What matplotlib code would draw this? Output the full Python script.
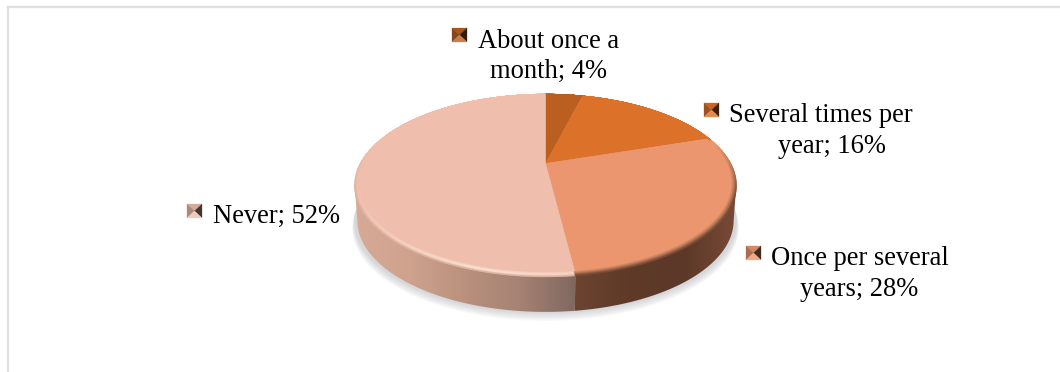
import numpy as np
import matplotlib as mpl
mpl.use('Agg')
import matplotlib.pyplot as plt
from matplotlib.collections import PolyCollection
from matplotlib.patches import Polygon

categories = ['About once a month', 'Several times per year', 'Once per several years', 'Never']
shares = [4, 16, 28, 52]
line_breaks = [('About once a', 'month'), ('Several times per', 'year'),
               ('Once per several', 'years'), ('', 'Never')]

face_colors = [(187, 95, 33), (220, 113, 42), (235, 150, 110), (239, 190, 172)]

# pie geometry in pixels: apex of the tilted disc and its perspective terms
CX, CY = 545.5, 163.5
A, B, K = 181.0, 84.5, 0.218
RIM = 1.03
DEPTH = 35.0
SIDE = np.arccos(-K)  # angle where the outline is widest


def project(theta, s=1.0, drop=0.0, xs=1.0):
    # theta runs clockwise from twelve o'clock, the near side of the disc is bigger
    X, Y = np.sin(theta), np.cos(theta)
    w = 1 + K * Y
    x = CX + A * s * xs * X / w
    y = CY - B * s * Y / w + (s - 1) * 70 + drop
    return x, y


def wall(ax, t0, t1, colors, x0, x1):
    theta = np.linspace(t0, t1, 200)
    xa, ya = project(theta, RIM)
    xb, yb = project(theta[::-1], RIM, DEPTH, 0.985)
    patch = Polygon(np.c_[np.r_[xa, xb], np.r_[ya - 3, yb]], closed=True, fc='none', ec='none')
    ax.add_patch(patch)
    rgb = np.array(colors, dtype=float) / 255
    pos = np.linspace(0, 1, len(colors))
    u = np.linspace(0, 1, 300)
    grad = np.stack([np.interp(u, pos, rgb[:, i]) for i in range(3)], axis=-1)[None, :, :]
    im = ax.imshow(grad, extent=(x0, x1, 330, 150), aspect='auto', zorder=2, interpolation='bilinear')
    im.set_clip_path(patch)


def rim_color(theta, t, idx):
    base = np.array(face_colors[idx], dtype=float)
    # the far side of the disc has no visible bevel
    near = np.clip((0.25 - np.cos(theta)) / 0.6, 0, 1)
    if idx == 3:
        # bright highlight along the front left of the large slice
        deg = np.degrees(theta)
        h = np.clip(1 - abs(deg - 195) / 55, 0.1, 1)
        edge = base + (np.array([255, 232, 218]) - base) * h
        c = base + (edge - base) * min(t / 0.7, 1)
        if t > 0.7:
            c = c + (np.array([222, 178, 158]) - c) * (t - 0.7) / 0.3
        return (base + (c - base) * near) / 255
    if idx == 2:
        dark = np.array([120, 76, 54], dtype=float)
        return (base + (dark - base) * t ** 1.5 * near) / 255
    return base / 255


def pyramid_key(ax, x, y, color, size=15):
    # small bevelled legend square made of four shaded triangles
    c = np.array(color, dtype=float) / 255
    top = c * 0.9
    left = c * 0.72
    right = c * 0.28
    bottom = c + (1 - c) * 0.18
    x0, x1, y0, y1 = x, x + size, y, y + size - 1
    mx, my = x + size / 2, y + (size - 1) / 2
    ax.add_patch(Polygon([(x0, y0), (x1, y0), (mx, my)], fc=top, ec=top, lw=0.2, zorder=5))
    ax.add_patch(Polygon([(x0, y0), (x0, y1), (mx, my)], fc=left, ec=left, lw=0.2, zorder=5))
    ax.add_patch(Polygon([(x1, y0), (x1, y1), (mx, my)], fc=right, ec=right, lw=0.2, zorder=5))
    ax.add_patch(Polygon([(x0, y1), (x1, y1), (mx, my)], fc=bottom, ec=bottom, lw=0.2, zorder=5))


fig = plt.figure(figsize=(10.6, 3.72), dpi=100)
ax = fig.add_axes([0, 0, 1, 1])

# chart frame, only the top and left edges show
ax.plot([8, 8], [372, 7], color='#e0e0e0', lw=1.6, zorder=1)
ax.plot([8, 1060], [7, 7], color='#e0e0e0', lw=1.6, zorder=1)

# soft drop shadow under the disc
full = np.linspace(0, 2 * np.pi, 361)
for g in np.linspace(1, 0, 12):
    sx, sy = project(full, RIM + 0.012 * g, DEPTH + 1 + 6 * g, 1.0)
    ax.add_patch(Polygon(np.c_[sx, sy], fc='#70707a', ec='none', alpha=0.022, zorder=1.5))

cum = np.cumsum([0] + shares) / np.sum(shares) * 2 * np.pi

# side wall: the front boundary of the large slice splits the two gradients
split = cum[3]
split_x = project(split, RIM)[0]
wall(ax, SIDE, split, [(122, 76, 56), (92, 56, 40), (95, 58, 40), (108, 68, 48)][::-1], split_x, 740)
wall(ax, split, 2 * np.pi - SIDE, [(214, 170, 150), (207, 162, 142), (185, 145, 125), (165, 130, 115), (128, 104, 95)], 354, split_x)

# rim band around the top face
layers = np.linspace(0, 1, 9)
polys, cols = [], []
steps = np.linspace(0, 2 * np.pi, 361)
for j in range(len(layers) - 1):
    s0 = 1 + (RIM - 1) * layers[j]
    s1 = 1 + (RIM - 1) * layers[j + 1]
    for i in range(len(steps) - 1):
        t0, t1 = steps[i], steps[i + 1]
        xa, ya = project(np.array([t0, t1]), s0)
        xb, yb = project(np.array([t1, t0]), s1)
        polys.append(np.c_[np.r_[xa, xb], np.r_[ya, yb]])
        idx = int(np.searchsorted(cum, (t0 + t1) / 2)) - 1
        cols.append(rim_color((t0 + t1) / 2, layers[j + 1], idx))
ax.add_collection(PolyCollection(polys, facecolors=cols, edgecolors=cols, linewidths=0.4, zorder=3))

# top face slices
for i in range(len(shares)):
    theta = np.linspace(cum[i], cum[i + 1], 120)
    x, y = project(theta)
    pts = np.c_[np.r_[CX, x], np.r_[CY, y]]
    ax.add_patch(Polygon(pts, closed=True, fc=np.array(face_colors[i]) / 255, ec=np.array(face_colors[i]) / 255, lw=0.4, zorder=4))

# labels: key position, then left edge and baseline of each line
key_xy = [(452, 28), (704, 103), (746, 246), (187, 204)]
first_xy = [(478, 48), (729, 122), (771, 265), None]
second_xy = [(490, 78), (778, 153), (800, 296), (213, 223)]
text_kw = dict(family='Liberation Serif', fontsize=19.1, color='black', va='baseline', ha='left', zorder=6)
for i in range(len(shares)):
    pyramid_key(ax, key_xy[i][0], key_xy[i][1], face_colors[i])
    first, second = line_breaks[i]
    if first_xy[i] is not None:
        ax.text(first_xy[i][0], first_xy[i][1], first, **text_kw)
    ax.text(second_xy[i][0], second_xy[i][1], f'{second}; {shares[i]}%', **text_kw)

ax.set_xlim(0, 1060)
ax.set_ylim(372, 0)
ax.axis('off')
fig.savefig('out.png', dpi=100)
